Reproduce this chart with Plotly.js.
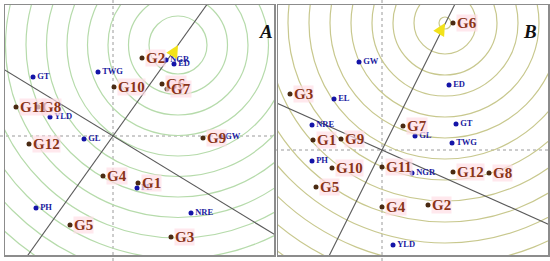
<!DOCTYPE html>
<html>
<head>
<meta charset="utf-8">
<script src="https://cdn.plot.ly/plotly-3.0.1.min.js"></script>
<style>
  html, body { margin: 0; padding: 0; background: #fff; }
  #chart { width: 550px; height: 261px; }
</style>
</head>
<body>
<div id="chart"></div>
<script>
// Genotype names (same in both panels)
const genoNames = ['G1', 'G2', 'G3', 'G4', 'G5', 'G6', 'G7', 'G8', 'G9', 'G10', 'G11', 'G12'];

// Panel A scores
const genoAx = [2.5, 2.9, 5.8, -1.0, -4.3, 4.9, 5.4, -7.5, 9.0, 0.1, -9.7, -8.4];
const genoAy = [-4.7, 7.8, -10.1, -4.0, -8.9, 5.2, 4.7, 2.9, -0.2, 4.9, 2.9, -0.8];
const envANames = ['GT', 'TWG', 'YLD', 'NGR', 'ED', 'GL', 'GW', 'PL', 'PH', 'NRE'];
const envAx = [-8.0, -1.5, -6.3, 5.3, 6.1, -2.9, 10.8, 2.4, -7.7, 7.8];
const envAy = [5.9, 6.4, 1.9, 7.6, 7.2, -0.3, -0.1, -5.2, -7.2, -7.7];
const idealA = [6.5, 9.1];
const slopesA = [-0.61, 1.4];

// Panel B scores
const genoBx = [-6.9, 4.6, -9.2, 0.0, -6.6, 7.1, 2.1, 10.7, -4.1, -5.0, 0.0, 7.1];
const genoBy = [1.0, -5.5, 5.6, -5.7, -3.7, 12.7, 2.4, -2.3, 1.1, -1.8, -1.7, -2.2];
const envBNames = ['GW', 'ED', 'EL', 'NRE', 'GT', 'GL', 'TWG', 'PH', 'NGR', 'YLD'];
const envBx = [-2.3, 6.7, -4.8, -7.0, 7.4, 3.3, 7.0, -7.0, 3.0, 1.1];
const envBy = [8.8, 6.5, 5.1, 2.5, 2.6, 1.4, 0.7, -1.1, -2.3, -9.5];
const idealB = [6.3, 12.7];
const slopesB = [-0.446, 2.0];

const traces = [];
const shapes = [];
const annotations = [];

function addPanel(xa, ya, gx, gy, eNames, ex, ey, ideal, slopes, ring) {
    const xr = xa;
    const yr = ya;

    // concentric rings around the ideal point
    for (let k = 0; k < ring.count; k++) {
        const r = ring.start + k * ring.step;
        shapes.push({
            type: 'circle', xref: xr, yref: yr, layer: 'below',
            x0: ideal[0] - r, x1: ideal[0] + r, y0: ideal[1] - r, y1: ideal[1] + r,
            line: { color: ring.color, width: 1.2 }
        });
    }
    if (ring.small) {
        shapes.push({
            type: 'circle', xref: xr, yref: yr, layer: 'below',
            x0: ideal[0] - ring.small, x1: ideal[0] + ring.small,
            y0: ideal[1] - ring.small, y1: ideal[1] + ring.small,
            line: { color: ring.color, width: 1.2 }
        });
    }

    // dotted axes through origin
    shapes.push({ type: 'line', xref: xr, yref: 'paper', layer: 'below', x0: 0, x1: 0, y0: 0, y1: 1,
        line: { color: '#9a9a9a', width: 1, dash: 'dot' } });
    shapes.push({ type: 'line', xref: 'paper', yref: yr, layer: 'below', y0: 0, y1: 0,
        x0: xa === 'x' ? 0 : 0.5, x1: xa === 'x' ? 0.5 : 1,
        line: { color: '#9a9a9a', width: 1, dash: 'dot' } });

    // solid lines through origin
    slopes.forEach(s => {
        traces.push({
            x: [-40, 40], y: [-40 * s, 40 * s], xaxis: xa, yaxis: ya,
            mode: 'lines', line: { color: '#5a5a5a', width: 1.1 },
            hoverinfo: 'skip', showlegend: false
        });
    });

    // environments
    traces.push({
        x: ex, y: ey, xaxis: xa, yaxis: ya,
        mode: 'markers+text', text: eNames, textposition: 'middle right',
        marker: { color: '#1414a8', size: 5 },
        textfont: { family: 'Liberation Serif', size: 8.5, color: '#1a1aa0', weight: 'bold' },
        showlegend: false, hoverinfo: 'skip', cliponaxis: false
    });

    // genotypes
    traces.push({
        x: gx, y: gy, xaxis: xa, yaxis: ya,
        mode: 'markers', marker: { color: '#4a2a12', size: 5 },
        showlegend: false, hoverinfo: 'skip'
    });
    genoNames.forEach((n, i) => {
        annotations.push({
            x: gx[i], y: gy[i], xref: xr, yref: yr, text: n,
            showarrow: false, xanchor: 'left', yanchor: 'middle', xshift: 3,
            bgcolor: 'rgba(255,222,230,0.7)', borderpad: 0,
            font: { family: 'Liberation Serif', size: 15, color: '#8a3418', weight: 'bold' }
        });
    });

    // arrow toward the ideal point
    annotations.push({
        x: ideal[0], y: ideal[1], xref: xr, yref: yr, text: '',
        showarrow: true, arrowhead: 2, arrowsize: 1, arrowwidth: 2.5,
        arrowcolor: '#f2e21a', ax: -7, ay: 12
    });
}

addPanel('x', 'y', genoAx, genoAy, envANames, envAx, envAy, idealA, slopesA,
    { start: 2.9, step: 2.05, count: 16, color: '#b6dbab' });
addPanel('x2', 'y2', genoBx, genoBy, envBNames, envBx, envBy, idealB, slopesB,
    { start: 3.1, step: 2.1, count: 16, color: '#c8c88e', small: 0.6 });

// panel letters
annotations.push({ xref: 'paper', yref: 'paper', x: 266 / 550, y: 1 - 19 / 261, text: 'A',
    showarrow: false, font: { family: 'Liberation Serif', size: 19, color: '#111', style: 'italic', weight: 'bold' } });
annotations.push({ xref: 'paper', yref: 'paper', x: 539 / 550, y: 1 - 19 / 261, text: 'B',
    showarrow: false, font: { family: 'Liberation Serif', size: 19, color: '#111', style: 'italic', weight: 'bold' } });

const frame = {
    showline: true, mirror: true, linecolor: '#8c8c8c', linewidth: 1.5,
    showgrid: false, zeroline: false, showticklabels: false, ticks: ''
};

const layout = {
    width: 550, height: 261,
    margin: { l: 0, r: 0, t: 0, b: 0 },
    paper_bgcolor: '#fff', plot_bgcolor: '#fff',
    xaxis: Object.assign({ domain: [5 / 550, 274 / 550], range: [-10.8, 16.1], anchor: 'y' }, frame),
    yaxis: Object.assign({ domain: [6 / 261, 256 / 261], range: [-11.9, 13.1], anchor: 'x' }, frame),
    xaxis2: Object.assign({ domain: [278 / 550, 548 / 550], range: [-10.4, 16.6], anchor: 'y2' }, frame),
    yaxis2: Object.assign({ domain: [6 / 261, 256 / 261], range: [-10.5, 14.5], anchor: 'x2' }, frame),
    shapes: shapes,
    annotations: annotations
};

Plotly.newPlot('chart', traces, layout, { displayModeBar: false, staticPlot: true });
</script>
</body>
</html>
